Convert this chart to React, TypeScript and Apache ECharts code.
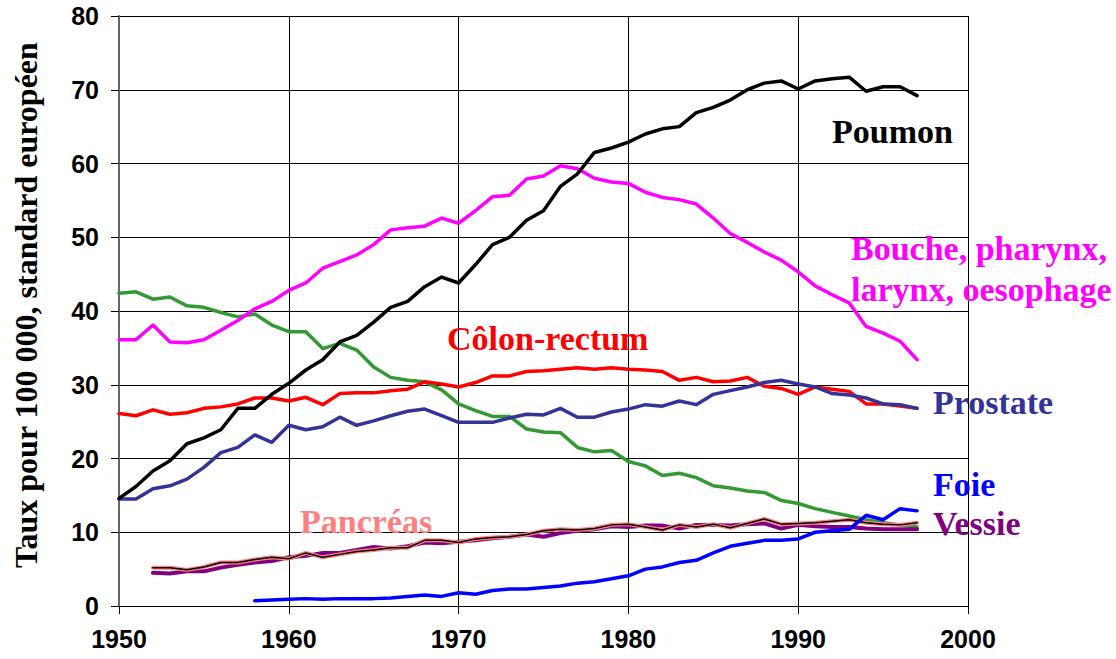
import React, { useEffect, useRef } from "react";
import * as echarts from "echarts";

const xTicks = [1950, 1960, 1970, 1980, 1990, 2000];
const yTicks = [0, 10, 20, 30, 40, 50, 60, 70, 80];

const poumonStart = 1950;
const poumon = [
  14.6, 16.2, 18.3, 19.7, 22.0, 22.8, 23.9, 26.8, 26.8, 28.7,
  30.2, 32.0, 33.4, 35.8, 36.7, 38.5, 40.5, 41.3, 43.3, 44.6,
  43.8, 46.3, 49.0, 50.0, 52.3, 53.6, 56.9, 58.6, 61.5, 62.1,
  62.9, 64.0, 64.7, 65.0, 66.9, 67.6, 68.6, 70.0, 70.9, 71.2,
  70.1, 71.2, 71.5, 71.7, 69.8, 70.4, 70.4, 69.2,
];

const boucheStart = 1950;
const bouche = [
  36.1, 36.1, 38.1, 35.8, 35.7, 36.1, 37.4, 38.7, 40.3, 41.3,
  42.8, 43.8, 45.8, 46.7, 47.6, 49.0, 51.0, 51.3, 51.5, 52.6,
  51.9, 53.6, 55.5, 55.7, 57.9, 58.3, 59.7, 59.3, 58.0, 57.5,
  57.3, 56.1, 55.4, 55.1, 54.5, 52.6, 50.5, 49.3, 48.0, 46.9,
  45.3, 43.4, 42.2, 41.1, 37.9, 37.0, 35.9, 33.4,
];

const estomacStart = 1950;
const estomac = [
  42.4, 42.6, 41.6, 41.9, 40.7, 40.5, 39.8, 39.2, 39.6, 38.1,
  37.2, 37.2, 34.9, 35.6, 34.7, 32.4, 31.0, 30.6, 30.4, 29.3,
  27.4, 26.5, 25.7, 25.7, 24.0, 23.6, 23.5, 21.5, 20.9, 21.1,
  19.6, 19.0, 17.7, 18.0, 17.4, 16.3, 16.0, 15.6, 15.4, 14.3,
  13.9, 13.2, 12.7, 12.2, 11.7, 11.3, 11.0, 10.7,
];

const colonStart = 1950;
const colon = [
  26.1, 25.8, 26.6, 26.0, 26.2, 26.8, 27.0, 27.4, 28.2, 28.2,
  27.8, 28.3, 27.3, 28.8, 28.9, 28.9, 29.2, 29.4, 30.4, 30.1,
  29.7, 30.3, 31.2, 31.2, 31.8, 31.9, 32.1, 32.3, 32.1, 32.3,
  32.1, 32.0, 31.8, 30.6, 31.0, 30.4, 30.5, 31.0, 29.8, 29.5,
  28.7, 29.7, 29.4, 29.1, 27.4, 27.4, 27.1, 26.8,
];

const prostateStart = 1950;
const prostate = [
  14.5, 14.5, 15.9, 16.3, 17.2, 18.8, 20.8, 21.5, 23.2, 22.2,
  24.5, 23.9, 24.3, 25.6, 24.5, 25.1, 25.8, 26.4, 26.7, 25.8,
  24.9, 24.9, 24.9, 25.5, 26.0, 25.9, 26.8, 25.6, 25.6, 26.3,
  26.7, 27.3, 27.1, 27.8, 27.3, 28.7, 29.2, 29.7, 30.3, 30.6,
  30.1, 29.7, 28.8, 28.6, 28.2, 27.4, 27.3, 26.8,
];

const pancreasStart = 1952;
const pancreas = [
  5.2, 5.2, 4.9, 5.3, 5.9, 5.9, 6.3, 6.6,
  6.4, 7.2, 6.6, 7.0, 7.4, 7.6, 7.9, 7.9, 8.9, 8.9,
  8.6, 9.1, 9.3, 9.4, 9.7, 10.2, 10.4, 10.3, 10.5, 11.0,
  11.1, 10.7, 10.3, 11.0, 10.7, 11.1, 10.6, 11.2, 11.8, 11.1,
  11.2, 11.3, 11.5, 11.7, 11.3, 11.1, 11.0, 11.3,
];

const vessieStart = 1952;
const vessie = [
  4.5, 4.4, 4.7, 4.7, 5.2, 5.6, 5.9, 6.1,
  6.6, 6.8, 7.2, 7.2, 7.6, 8.0, 7.8, 8.1, 8.6, 8.5,
  8.7, 8.9, 9.2, 9.4, 9.7, 9.4, 9.9, 10.2, 10.4, 10.8,
  10.7, 10.9, 10.9, 10.5, 11.0, 11.0, 10.9, 11.1, 11.2, 10.5,
  11.0, 10.8, 10.7, 10.7, 10.5, 10.4, 10.4, 10.4,
];

const foieStart = 1958;
const foie = [
  0.7, 0.8,
  0.9, 1.0, 0.9, 1.0, 1.0, 1.0, 1.1, 1.3, 1.5, 1.3,
  1.8, 1.6, 2.1, 2.3, 2.3, 2.5, 2.7, 3.1, 3.3, 3.7,
  4.1, 5.0, 5.3, 5.9, 6.2, 7.2, 8.1, 8.5, 8.9, 8.9,
  9.1, 10.0, 10.2, 10.4, 12.3, 11.7, 13.2, 12.9,
];

const pts = (start: number, vals: number[]) => vals.map((v, i) => [start + i, v]);

const SERIF = "'Liberation Serif', 'Times New Roman', serif";
const SANS = "'Liberation Sans', Arial, sans-serif";

function line(name: string, data: number[][], color: string, width: number, z = 2) {
  return {
    name,
    type: "line",
    data,
    symbol: "none",
    z,
    lineStyle: { color, width, cap: "round", join: "round" },
    itemStyle: { color },
  };
}

function label(text: string, x: number, y: number, color: string) {
  return {
    type: "text",
    x,
    y,
    z: 100,
    style: {
      text,
      fill: color,
      font: `bold 34px ${SERIF}`,
      textAlign: "left",
      textVerticalAlign: "middle",
    },
  };
}

export default function App() {
  const ref = useRef<HTMLDivElement>(null);
  useEffect(() => {
    if (!ref.current) return;
    const chart = echarts.init(ref.current, null, { renderer: "svg" });
    chart.setOption({
      animation: false,
      backgroundColor: "#ffffff",
      grid: { left: 119, right: 148, top: 16, bottom: 53, containLabel: false },
      xAxis: {
        type: "value",
        min: xTicks[0],
        max: xTicks[xTicks.length - 1],
        interval: 10,
        axisLine: { show: true, lineStyle: { color: "#000", width: 1 } },
        axisTick: { show: true, length: 8, lineStyle: { color: "#000", width: 1 } },
        splitLine: { show: true, lineStyle: { color: "#000", width: 1 } },
        axisLabel: {
          margin: 20,
          color: "#000",
          fontFamily: SANS,
          fontWeight: "bold",
          fontSize: 25,
          formatter: (v: number) => String(v),
        },
      },
      yAxis: {
        type: "value",
        min: yTicks[0],
        max: yTicks[yTicks.length - 1],
        interval: 10,
        axisLine: { show: true, lineStyle: { color: "#666", width: 2 } },
        axisTick: { show: true, length: 8, lineStyle: { color: "#000", width: 1 } },
        splitLine: { show: true, lineStyle: { color: "#000", width: 1 } },
        axisLabel: {
          margin: 20,
          color: "#000",
          fontFamily: SANS,
          fontWeight: "bold",
          fontSize: 25,
        },
      },
      series: [
        line("Estomac", pts(estomacStart, estomac), "#339933", 3.5),
        line("Côlon-rectum", pts(colonStart, colon), "#ff0000", 3.5),
        line("Prostate", pts(prostateStart, prostate), "#333399", 3.5),
        line("Bouche, pharynx, larynx, oesophage", pts(boucheStart, bouche), "#ff00ff", 3.5),
        line("Poumon", pts(poumonStart, poumon), "#000000", 3.5),
        line("Vessie", pts(vessieStart, vessie), "#800080", 4),
        line("Pancréas", pts(pancreasStart, pancreas), "#ff8080", 4),
        line("Pancréas ", pts(pancreasStart, pancreas), "#000000", 1.5, 3),
        line("Foie", pts(foieStart, foie), "#0000ff", 3.5, 4),
      ],
      graphic: [
        {
          type: "text",
          x: 26,
          y: 305,
          rotation: Math.PI / 2,
          z: 100,
          style: {
            text: "Taux pour 100 000, standard européen",
            fill: "#000",
            font: `bold 32px ${SERIF}`,
            textAlign: "center",
            textVerticalAlign: "middle",
          },
        },
        label("Poumon", 832, 131, "#000000"),
        label("Bouche, pharynx,", 851, 248, "#ff00ff"),
        label("larynx, oesophage", 851, 289, "#ff00ff"),
        label("Côlon-rectum", 447, 338, "#ff0000"),
        label("Prostate", 933, 402, "#333399"),
        label("Foie", 933, 484, "#0000ff"),
        label("Vessie", 933, 523, "#800080"),
        label("Pancréas", 300, 521, "#ff8080"),
      ],
    });
    return () => chart.dispose();
  }, []);
  return (
    <div
      ref={ref}
      style={{ position: "fixed", left: 0, top: 0, width: 1116, height: 659 }}
    />
  );
}
